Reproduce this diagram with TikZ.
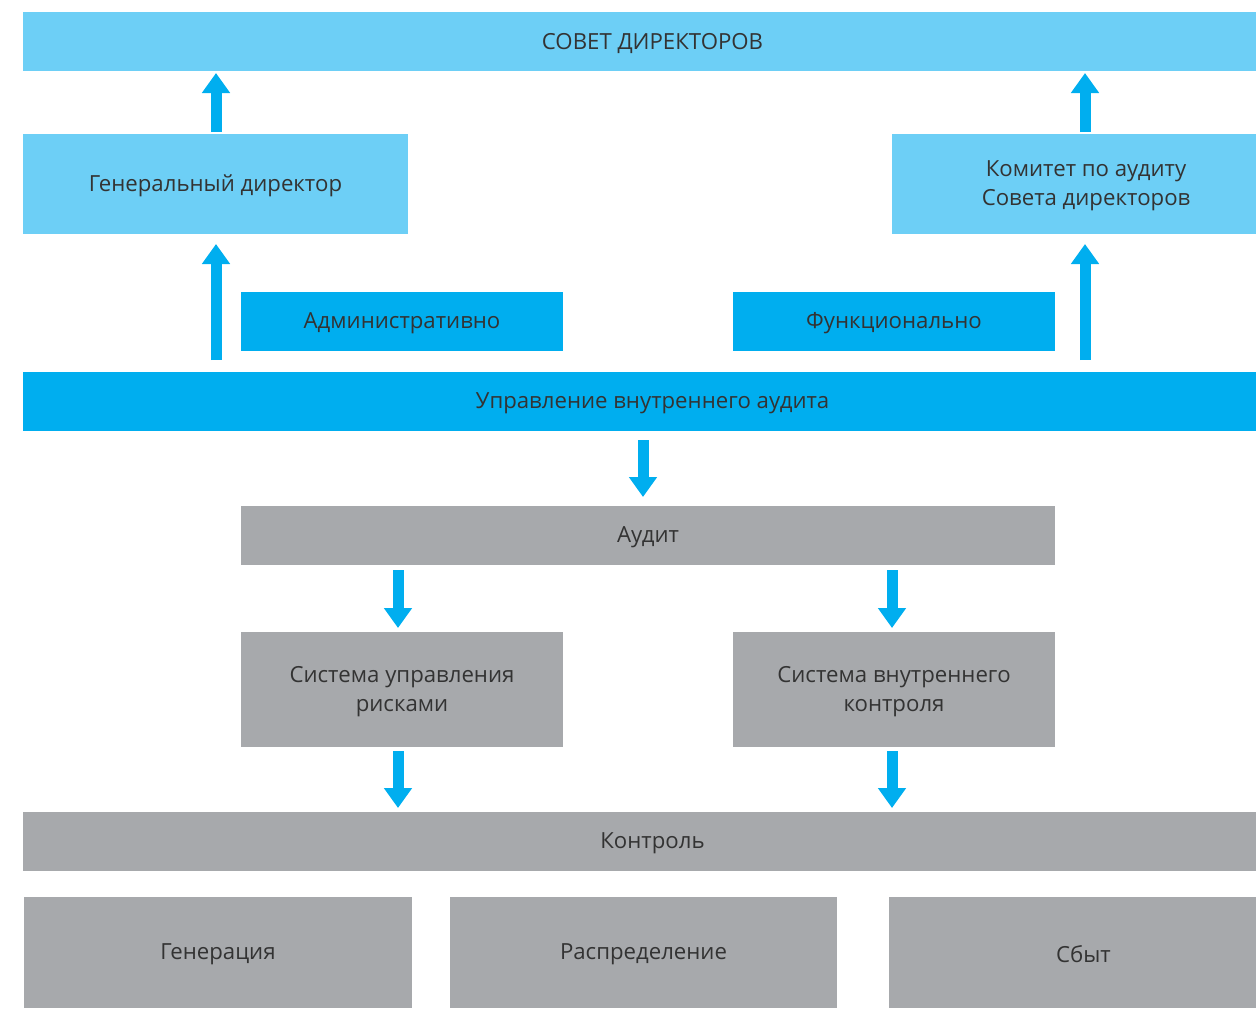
\documentclass[tikz,border=0pt]{standalone}
\usepackage{fontspec}
\setmainfont{Open Sans}
\usetikzlibrary{arrows.meta}
\definecolor{lblue}{HTML}{6DCFF6}
\definecolor{dblue}{HTML}{00AEEF}
\definecolor{gbox}{HTML}{A7A9AC}
\definecolor{txt}{HTML}{333333}
\tikzset{
  box/.style={inner sep=0pt, outer sep=0pt},
  lbl/.style={inner sep=0pt, align=center, text=txt,
    font=\fontsize{16.65}{21.75}\selectfont},
  lb/.style={box, fill=lblue},
  db/.style={box, fill=dblue},
  gb/.style={box, fill=gbox},
  arr/.style={draw=dblue, line width=8.25pt,
    -{Triangle[width=20.25pt,length=15pt]}},
}
\newcommand{\bx}[7]{% style, name, x1, y1, x2, y2, text
  \node[#1, minimum width={(#5-#3)*0.75pt}, minimum height={(#6-#4)*0.75pt}]
    (#2) at ({(#3+#5)/2},{(#4+#6)/2}) {};
  \node[lbl, yshift=-1.5pt] (#2-t) at (#2.center) {#7};}
\begin{document}
\begin{tikzpicture}[x=0.75pt,y=-0.75pt]
\useasboundingbox (0,0) rectangle (1256,1008);
\bx{lb}{sovet}{23}{12}{1282}{71}{СОВЕТ ДИРЕКТОРОВ}
\bx{lb}{gd}{23}{134}{408}{234}{Генеральный директор}
\bx{lb}{kom}{892}{134}{1280}{234}{Комитет по аудиту\\Совета директоров}
\bx{db}{adm}{241}{292}{563}{351}{Административно}
\bx{db}{fun}{733}{292}{1055}{351}{Функционально}
\bx{db}{upr}{23}{372}{1282}{431}{Управление внутреннего аудита}
\bx{gb}{aud}{241}{506}{1055}{565}{Аудит}
\bx{gb}{risk}{241}{632}{563}{747}{Система управления\\рисками}
\bx{gb}{vk}{733}{632}{1055}{747}{Система внутреннего\\контроля}
\bx{gb}{kon}{23}{812}{1282}{871}{Контроль}
\bx{gb}{gen}{24}{897}{412}{1008}{Генерация}
\bx{gb}{ras}{450}{897}{837}{1008}{Распределение}
\bx{gb}{sb}{889}{897}{1278}{1008}{Сбыт}
\coordinate (xl) at (216,0);
\coordinate (xr) at (1085,0);
\coordinate (xm) at (643,0);
\coordinate (xa) at (398,0);
\coordinate (xb) at (892,0);
\draw[arr, shorten <=1.5pt, shorten >=1.5pt] (gd.north -| xl) -- (sovet.south -| xl);
\draw[arr, shorten <=1.5pt, shorten >=1.5pt] (kom.north -| xr) -- (sovet.south -| xr);
\draw[arr, shorten <=9pt, shorten >=7.5pt] (upr.north -| xl) -- (gd.south -| xl);
\draw[arr, shorten <=9pt, shorten >=7.5pt] (upr.north -| xr) -- (kom.south -| xr);
\draw[arr, shorten <=6.75pt, shorten >=6.75pt] (upr.south -| xm) -- (aud.north -| xm);
\draw[arr, shorten <=3.75pt, shorten >=3pt] (aud.south -| xa) -- (risk.north -| xa);
\draw[arr, shorten <=3.75pt, shorten >=3pt] (aud.south -| xb) -- (vk.north -| xb);
\draw[arr, shorten <=3pt, shorten >=3pt] (risk.south -| xa) -- (kon.north -| xa);
\draw[arr, shorten <=3pt, shorten >=3pt] (vk.south -| xb) -- (kon.north -| xb);
\end{tikzpicture}
\end{document}
